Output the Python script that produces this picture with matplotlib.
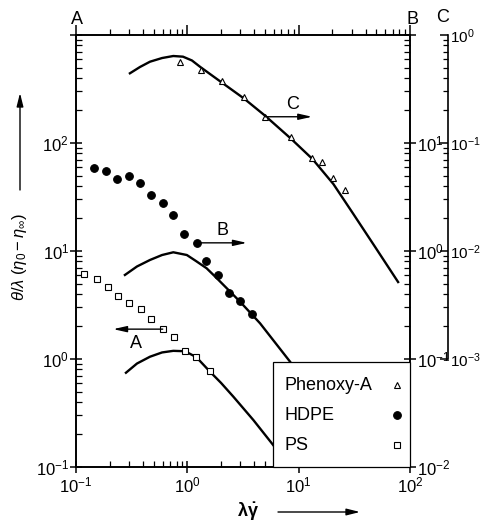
import matplotlib
matplotlib.use("Agg")
import matplotlib.pyplot as plt
from matplotlib.ticker import FixedLocator, FixedFormatter, LogLocator, NullFormatter
from matplotlib.patches import Rectangle
from matplotlib.lines import Line2D

plt.rcParams['font.family'] = ['Liberation Sans', 'DejaVu Sans']
plt.rcParams['mathtext.fontset'] = 'custom'
plt.rcParams['mathtext.rm'] = 'Liberation Sans'
plt.rcParams['mathtext.it'] = 'Liberation Sans:italic'
plt.rcParams['mathtext.bf'] = 'Liberation Sans:bold'

# ---------------- data ----------------
# Phenoxy-A (right-most axis C)
phen_x = [0.86, 1.33, 2.04, 3.23, 4.99, 8.5, 13.3, 16.1, 20.5, 26.1]
phen_y = [0.566, 0.474, 0.375, 0.268, 0.175, 0.113, 0.073, 0.066, 0.047, 0.037]
phen_curve_x = [0.305, 0.376, 0.462, 0.593, 0.748, 0.914, 1.10, 1.30, 1.60, 2.04,
                3.23, 4.99, 8.5, 13.3, 20.5, 31.0, 48.6, 78.2]
phen_curve_y = [0.442, 0.506, 0.566, 0.612, 0.639, 0.630, 0.581, 0.508, 0.435, 0.363,
                0.258, 0.179, 0.110, 0.0711, 0.0417, 0.0220, 0.0109, 0.00516]

# HDPE (right axis B)
hdpe_x = [0.146, 0.186, 0.233, 0.297, 0.376, 0.469, 0.601, 0.748, 0.94, 1.21,
          1.47, 1.90, 2.38, 2.97, 3.79]
hdpe_y = [5.83, 5.47, 4.64, 4.98, 4.26, 3.28, 2.80, 2.14, 1.44, 1.19,
          0.813, 0.60, 0.406, 0.347, 0.259]
hdpe_curve_x = [0.275, 0.353, 0.462, 0.593, 0.748, 0.99, 1.197, 1.49, 1.81, 2.26,
                2.97, 4.50, 8.37, 15.6]
hdpe_curve_y = [0.600, 0.719, 0.826, 0.918, 0.973, 0.918, 0.807, 0.692, 0.569, 0.452,
                0.340, 0.214, 0.0944, 0.0375]

# PS (left axis A)
ps_x = [0.119, 0.153, 0.194, 0.240, 0.301, 0.381, 0.469, 0.601, 0.764, 0.949, 1.205, 1.59]
ps_y = [6.12, 5.5, 4.61, 3.86, 3.32, 2.90, 2.35, 1.89, 1.59, 1.19, 1.04, 0.774]
ps_curve_x = [0.281, 0.353, 0.462, 0.593, 0.748, 0.953, 1.205, 1.60, 2.01, 2.59,
              3.92, 5.73, 8.37]
ps_curve_y = [0.746, 0.908, 1.05, 1.15, 1.19, 1.18, 1.04, 0.762, 0.600, 0.448,
              0.272, 0.166, 0.1]

series_labels = ['Phenoxy-A', 'HDPE', 'PS']

x_ticks = [0.1, 1, 10, 100]
x_ticklabels = [r'$\mathregular{10^{-1}}$', r'$\mathregular{10^{0}}$',
                r'$\mathregular{10^{1}}$', r'$\mathregular{10^{2}}$']
a_ticks = [0.1, 1, 10, 100, 1000]
a_ticklabels = [r'$\mathregular{10^{-1}}$', r'$\mathregular{10^{0}}$',
                r'$\mathregular{10^{1}}$', r'$\mathregular{10^{2}}$', '']
b_ticks = [0.01, 0.1, 1, 10, 100]
b_ticklabels = [r'$\mathregular{10^{-2}}$', r'$\mathregular{10^{-1}}$',
                r'$\mathregular{10^{0}}$', r'$\mathregular{10^{1}}$', '']
c_ticks = [0.001, 0.01, 0.1, 1]
c_ticklabels = [r'$\mathregular{10^{-3}}$', r'$\mathregular{10^{-2}}$',
                r'$\mathregular{10^{-1}}$', r'$\mathregular{10^{0}}$']

# ---------------- figure ----------------
W, H = 481, 521
AX_L, AX_R, AX_T, AX_B = 76, 410, 35, 467
fig = plt.figure(figsize=(W / 100, H / 100), dpi=100)
ax = fig.add_axes([AX_L / W, (H - AX_B) / H, (AX_R - AX_L) / W, (AX_B - AX_T) / H])
ax.set_xscale('log')
ax.set_yscale('log')
ax.set_xlim(0.1, 100)
ax.set_ylim(0.1, 1000)

ax2 = ax.twinx()
ax2.set_yscale('log')
ax2.set_ylim(0.01, 100)
ax3 = ax.twinx()
ax3.set_yscale('log')
ax3.set_ylim(1e-4, 1)

TFS = 12
SPLW = 1.2
for a in (ax, ax2, ax3):
    for s in a.spines.values():
        s.set_linewidth(SPLW)

# x axis (bottom) on ax
ax.xaxis.set_major_locator(FixedLocator(x_ticks))
ax.xaxis.set_major_formatter(FixedFormatter(x_ticklabels))
ax.xaxis.set_minor_locator(LogLocator(base=10, subs=range(2, 10), numticks=20))
ax.xaxis.set_minor_formatter(NullFormatter())
ax.tick_params(axis='x', which='major', bottom=True, top=False, direction='inout',
               length=8, width=1.1, labelsize=TFS, pad=2)
ax.tick_params(axis='x', which='minor', bottom=True, top=False, direction='in',
               length=4, width=0.9)

# left axis A
ax.yaxis.set_major_locator(FixedLocator(a_ticks))
ax.yaxis.set_major_formatter(FixedFormatter(a_ticklabels))
ax.yaxis.set_minor_locator(LogLocator(base=10, subs=range(2, 10), numticks=20))
ax.yaxis.set_minor_formatter(NullFormatter())
ax.tick_params(axis='y', which='major', left=True, right=False, direction='inout',
               length=8, width=1.1, labelsize=TFS, pad=1)
ax.tick_params(axis='y', which='minor', left=True, right=False, direction='in',
               length=4, width=0.9)

# top ticks on ax2
ax2.xaxis.set_visible(True)
ax2.tick_params(axis='x', which='major', top=True, bottom=False, labeltop=False,
                labelbottom=False, direction='out', length=7, width=1.1)
ax2.tick_params(axis='x', which='minor', top=True, bottom=False, labeltop=False,
                labelbottom=False, direction='out', length=4, width=0.9)

# right axis B
ax2.yaxis.set_major_locator(FixedLocator(b_ticks))
ax2.yaxis.set_major_formatter(FixedFormatter(b_ticklabels))
ax2.yaxis.set_minor_locator(LogLocator(base=10, subs=range(2, 10), numticks=20))
ax2.yaxis.set_minor_formatter(NullFormatter())
ax2.tick_params(axis='y', which='major', right=True, left=False, direction='inout',
                length=8, width=1.1, labelsize=TFS, pad=1)
ax2.tick_params(axis='y', which='minor', right=True, left=False, direction='in',
                length=4, width=0.9)

# far right axis C
for s in ('left', 'top', 'bottom'):
    ax3.spines[s].set_visible(False)
ax3.spines['right'].set_position(('axes', 1 + 38 / (AX_R - AX_L)))
ax3.spines['right'].set_bounds(1e-3, 1)
ax3.yaxis.set_major_locator(FixedLocator(c_ticks))
ax3.yaxis.set_major_formatter(FixedFormatter(c_ticklabels))
ax3.yaxis.set_minor_locator(FixedLocator([m * 10.0 ** e for e in (-3, -2, -1) for m in range(2, 10)]))
ax3.yaxis.set_minor_formatter(NullFormatter())
ax3.tick_params(axis='y', which='major', right=True, left=False, direction='in',
                length=6, width=1.1, labelsize=11, pad=1.5)
ax3.tick_params(axis='y', which='minor', right=True, left=False, direction='in',
                length=3.5, width=0.9)

# ---------------- data marks ----------------
LW = 1.7
ps_style = dict(ls='none', marker='s', ms=4.5, mfc='white', mec='k', mew=0.8)
hd_style = dict(ls='none', marker='o', ms=5.5, mfc='k', mec='k', mew=0.8)
ph_style = dict(ls='none', marker='^', ms=5, mfc='white', mec='k', mew=0.8)

ax.plot(ps_curve_x, ps_curve_y, color='k', lw=LW, zorder=2)
ax.plot(ps_x, ps_y, zorder=3, **ps_style)

ax2.plot(hdpe_curve_x, hdpe_curve_y, color='k', lw=LW, zorder=2)
ax2.plot(hdpe_x, hdpe_y, zorder=3, **hd_style)

ax3.plot(phen_curve_x, phen_curve_y, color='k', lw=LW, zorder=2)
ax3.plot(phen_x, phen_y, zorder=3, **ph_style)

arrow_kw = dict(arrowstyle='-|>,head_length=0.8,head_width=0.18', color='k', lw=1.0,
                mutation_scale=10, shrinkA=0, shrinkB=0)
ax.annotate('', xy=(0.216, ps_y[7]), xytext=(ps_x[7], ps_y[7]), arrowprops=arrow_kw)
ax.text(0.346, 1.40, 'A', ha='center', va='center', fontsize=13)
ax2.annotate('', xy=(3.42, hdpe_y[9]), xytext=(hdpe_x[9], hdpe_y[9]), arrowprops=arrow_kw)
ax2.text(2.06, 1.56, 'B', ha='center', va='center', fontsize=13)
ax3.annotate('', xy=(13.2, phen_y[4]), xytext=(phen_x[4], phen_y[4]), arrowprops=arrow_kw)
ax3.text(8.85, 0.225, 'C', ha='center', va='center', fontsize=13)

# ---------------- legend box (left-aligned text, marker at right) ----------------
def axx(px):
    return (px - AX_L) / (AX_R - AX_L)

def axy(py):
    return (AX_B - py) / (AX_B - AX_T)

box = Rectangle((axx(273), 0), axx(AX_R) - axx(273), axy(362), transform=ax3.transAxes,
                facecolor='white', edgecolor='k', lw=0.9, zorder=20, clip_on=False)
ax3.add_patch(box)
row_py = [385, 415, 445]
styles = [ph_style, hd_style, ps_style]
for lab, py, st in zip(series_labels, row_py, styles):
    ax3.text(axx(285), axy(py), lab, transform=ax3.transAxes, ha='left', va='center',
             fontsize=13, zorder=21)
    ax3.add_line(Line2D([axx(396.5)], [axy(py)], transform=ax3.transAxes, zorder=21, **st))

# ---------------- axis letters and labels ----------------
def fx(px):
    return px / W

def fy(py):
    return (H - py) / H

fig.text(fx(77), fy(20), 'A', ha='center', va='center', fontsize=13)
fig.text(fx(412), fy(20), 'B', ha='center', va='center', fontsize=13)
fig.text(fx(443), fy(17), 'C', ha='center', va='center', fontsize=13)

fig.text(fx(20), fy(257), r'$\theta/\lambda\ (\eta_0 - \eta_\infty)$', rotation=90,
         ha='center', va='center', fontsize=12)
fig.text(fx(248), fy(511), r'$\mathbf{\lambda\dot{\gamma}}$', ha='center', va='center', fontsize=13)

ax_kw = dict(arrowstyle='-|>,head_length=0.8,head_width=0.2', color='k', lw=1.0,
             mutation_scale=10, shrinkA=0, shrinkB=0)
ax.annotate('', xy=(20, H - 93), xytext=(20, H - 190), xycoords='figure pixels',
            textcoords='figure pixels', arrowprops=ax_kw, annotation_clip=False)
ax.annotate('', xy=(360, H - 512), xytext=(278, H - 512), xycoords='figure pixels',
            textcoords='figure pixels', arrowprops=ax_kw, annotation_clip=False)

fig.savefig('out.png', dpi=100)
